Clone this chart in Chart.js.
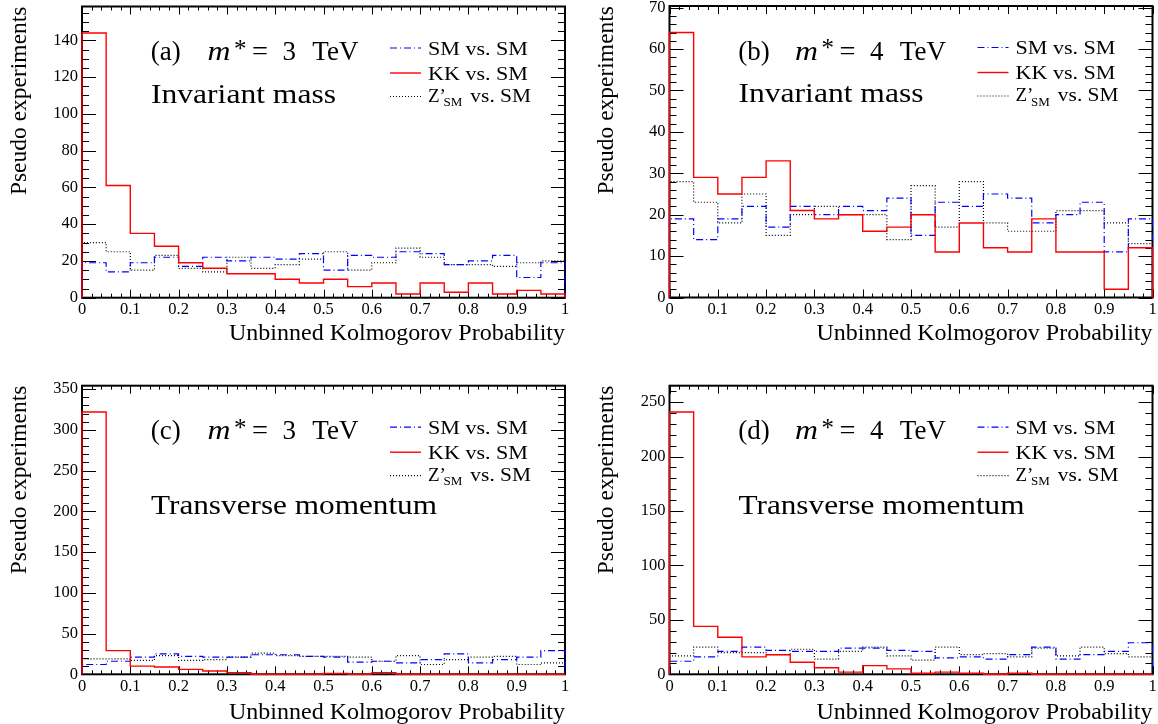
<!DOCTYPE html>
<html><head><meta charset="utf-8"><title>Unbinned Kolmogorov Probability</title>
<script src="https://cdn.jsdelivr.net/npm/chart.js@4.4.1/dist/chart.umd.min.js"></script>
<style>html,body{margin:0;padding:0;background:#fff;overflow:hidden}#wrap{position:relative;width:1158px;height:724px;background:#fff}canvas{position:absolute;display:block}</style>
</head><body><div id="wrap">
<canvas id="pa" width="579" height="362" style="left:0;top:0"></canvas>
<canvas id="pb" width="579" height="362" style="left:579px;top:0"></canvas>
<canvas id="pc" width="579" height="362" style="left:0;top:362px"></canvas>
<canvas id="pd" width="579" height="362" style="left:579px;top:362px"></canvas>
</div>
<script>
// ---- data ----
const binEdges = [0,0.05,0.1,0.15,0.2,0.25,0.3,0.35,0.4,0.45,0.5,0.55,0.6,0.65,0.7,0.75,0.8,0.85,0.9,0.95];
const xMaxEdge = 1;
const xTicks = [0,0.1,0.2,0.3,0.4,0.5,0.6,0.7,0.8,0.9,1];
const xTickLabels = ['0','0.1','0.2','0.3','0.4','0.5','0.6','0.7','0.8','0.9','1'];
const legendLabels = ['SM vs. SM','KK vs. SM','Z’','SM',' vs. SM'];

const smA = [19,14,19,22,17,22,20,22,21,24,15,23,22,25,24,18,20,23,11,19];
const kkA = [144,61,35,28,19,16,13,13,10,8,10,6,8,2,8,3,8,2,4,2];
const zpA = [30,25,15,23,16,14,22,16,18,21,25,15,19,27,22,18,18,17,19,20];

const smB = [19,14,19,22,17,22,20,22,21,24,15,23,22,25,24,18,20,23,11,19];
const kkB = [64,29,25,29,33,21,19,20,16,17,20,11,18,12,11,19,11,11,2,12];
const zpB = [28,23,18,25,15,20,22,20,20,14,27,17,28,18,16,16,21,21,18,13];

const smC = [12,16,21,25,22,21,21,24,24,22,21,15,16,14,18,25,14,18,21,29];
const kkC = [322,29,10,9,6,4,2,0,0,0,1,0,2,0,0,0,0,0,0,0];
const zpC = [19,19,17,23,17,18,21,26,23,22,22,21,16,23,12,18,21,22,12,14];

const smD = [12,16,21,25,22,21,21,24,24,22,21,15,16,14,18,25,14,18,21,29];
const kkD = [241,44,34,16,18,11,6,2,8,5,1,2,1,0,1,0,0,0,0,0];
const zpD = [17,25,20,20,18,23,14,21,25,17,13,25,18,19,16,24,17,25,19,16];

const yTicksA = [0,20,40,60,80,100,120,140];
const yTicksB = [0,10,20,30,40,50,60,70];
const yTicksC = [0,50,100,150,200,250,300,350];
const yTicksD = [0,50,100,150,200,250];
const yMaxA = 158.4, yMaxB = 70.4, yMaxC = 354.2, yMaxD = 265.1;

// ---- styling ----
const FONT = '"Liberation Serif","Times New Roman",serif';
const xMinorStep = 0.02;

const panels = [
  {id:'pa', tag:'(a)', mass:'3', kind:'Invariant mass', kindY:96, kindW:185, sm:smA, kk:kkA, zp:zpA, yMax:yMaxA, yTicks:yTicksA, yMajor:20, yMinor:5, box:{l:82, r:565, t:6.5, b:297.7}, titleB:17},
  {id:'pb', tag:'(b)', mass:'4', kind:'Invariant mass', kindY:96, kindW:185, sm:smB, kk:kkB, zp:zpB, yMax:yMaxB, yTicks:yTicksB, yMajor:10, yMinor:2, box:{l:90.5, r:573.5, t:6, b:297.5}, titleB:17},
  {id:'pc', tag:'(c)', mass:'3', kind:'Transverse momentum', kindY:128, kindW:286, sm:smC, kk:kkC, zp:zpC, yMax:yMaxC, yTicks:yTicksC, yMajor:50, yMinor:10, box:{l:82, r:565, t:23.7, b:312.3}, titleB:0},
  {id:'pd', tag:'(d)', mass:'4', kind:'Transverse momentum', kindY:128, kindW:286, sm:smD, kk:kkD, zp:zpD, yMax:yMaxD, yTicks:yTicksD, yMajor:50, yMinor:10, box:{l:90.5, r:573.5, t:23.7, b:312.3}, titleB:0}
];

function histPts(vals){
  const pts = [{x:binEdges[0], y:0}];
  vals.forEach((v,i)=>pts.push({x:binEdges[i], y:v}));
  pts.push({x:xMaxEdge, y:0});
  return pts;
}

const STYLE = {
  sm:{color:'#0000ff', dash:[7,3,1,3], width:1.2},
  kk:{color:'#ff0000', dash:[], width:1.4},
  zp:{color:'#000000', dash:[1,2], width:1.2}
};

function txt(ctx, s, x, y, size, opt){
  opt = opt || {};
  ctx.font = (opt.italic ? 'italic ' : '') + size + 'px ' + FONT;
  ctx.textAlign = 'left';
  ctx.textBaseline = 'alphabetic';
  ctx.fillStyle = '#000';
  if (opt.w){
    const m = ctx.measureText(s).width;
    ctx.save(); ctx.translate(x, y); ctx.scale(opt.w / m, 1); ctx.fillText(s, 0, 0); ctx.restore();
  } else ctx.fillText(s, x, y);
}

const framePlugin = {
  id:'frame',
  beforeDatasetsDraw(chart){
    const p = chart.options.plugins.frame;
    const {ctx, chartArea:a, scales:{x, y}} = chart;
    ctx.save();
    ctx.strokeStyle = '#000';
    ctx.lineWidth = 1;
    ctx.beginPath();
    const nx = Math.round(1 / xMinorStep);
    for (let k = 0; k <= nx; k++){
      const px = Math.round(x.getPixelForValue(k * xMinorStep)) + 0.5;
      const len = (k % 5 === 0) ? 8 : 4;
      ctx.moveTo(px, a.bottom); ctx.lineTo(px, a.bottom - len);
      ctx.moveTo(px, a.top); ctx.lineTo(px, a.top + len);
    }
    const per = Math.round(p.yMajor / p.yMinor);
    for (let k = 0; k * p.yMinor <= y.max; k++){
      const py = Math.round(y.getPixelForValue(k * p.yMinor)) + 0.5;
      const len = (k % per === 0) ? 14 : 7;
      ctx.moveTo(a.left, py); ctx.lineTo(a.left + len, py);
      ctx.moveTo(a.right, py); ctx.lineTo(a.right - len, py);
    }
    ctx.stroke();
    ctx.lineWidth = 2;
    ctx.strokeRect(a.left, a.top, a.right - a.left, a.bottom - a.top);
    ctx.restore();
  },
  afterDatasetsDraw(chart){
    const p = chart.options.plugins.frame;
    const {ctx, chartArea:a} = chart;
    const L = a.left, T = a.top;
    ctx.save();
    // panel title
    const tb = T + 53.5;
    txt(ctx, p.tag, L + 68.7, tb, 27);
    txt(ctx, 'm', L + 125.5, tb, 27, {italic:true, w:23});
    txt(ctx, '*', L + 152, tb - 3.5, 25);
    txt(ctx, '=', L + 170, tb, 27, {w:16});
    txt(ctx, p.mass, L + 200.5, tb, 27);
    txt(ctx, 'TeV', L + 230.3, tb, 27);
    txt(ctx, p.kind, L + 69, T + p.kindY, 27, {w:p.kindW});
    // legend
    const lx0 = L + 308, lx1 = L + 339, tx = L + 346;
    const rows = [
      {s:STYLE.sm, ly:T + 41.5},
      {s:STYLE.kk, ly:T + 66.5},
      {s:STYLE.zp, ly:T + 90}
    ];
    rows.forEach(r=>{
      ctx.beginPath(); ctx.strokeStyle = r.s.color; ctx.lineWidth = r.s.width; ctx.setLineDash(r.s.dash);
      ctx.moveTo(lx0, r.ly); ctx.lineTo(lx1, r.ly); ctx.stroke();
    });
    ctx.setLineDash([]);
    txt(ctx, legendLabels[0], tx, T + 48, 19, {w:100});
    txt(ctx, legendLabels[1], tx, T + 73, 19, {w:100});
    txt(ctx, legendLabels[2], tx, T + 95, 19);
    txt(ctx, legendLabels[3], tx + 15.5, T + 99.5, 13);
    txt(ctx, legendLabels[4], tx + 37, T + 95, 19, {w:66});
    ctx.restore();
  }
};

function makeChart(p){
  const ds = (vals, key, order) => ({
    data: histPts(vals), borderColor: STYLE[key].color, borderWidth: STYLE[key].width,
    borderDash: STYLE[key].dash, stepped: true, pointRadius: 0, fill: false, clip: 4, order: order, tension: 0
  });
  const xH = 362 - p.box.b, yW = 82;
  new Chart(document.getElementById(p.id), {
    type: 'line',
    data: { datasets: [ ds(p.zp, 'zp', 2), ds(p.sm, 'sm', 1), ds(p.kk, 'kk', 0) ] },
    options: {
      responsive: false, animation: false, events: [], devicePixelRatio: 1,
      layout: { padding: { left: p.box.l - yW, right: 579 - p.box.r, top: p.box.t, bottom: 0 } },
      plugins: { legend: {display:false}, tooltip: {enabled:false}, frame: p },
      scales: {
        x: {
          type: 'linear', min: 0, max: xMaxEdge,
          grid: {display:false, drawTicks:false}, border: {display:false},
          afterBuildTicks: s => { s.ticks = xTicks.map(v => ({value:v})); },
          ticks: { callback: (v, i) => xTickLabels[i], font: {family: FONT, size: 16.5}, color: '#000', padding: 2, maxRotation: 0, autoSkip: false },
          title: { display: true, text: 'Unbinned Kolmogorov Probability', align: 'end', color: '#000',
                   font: {family: FONT, size: 24, lineHeight: 0.9}, padding: {top: 0, bottom: p.titleB} },
          afterFit: s => { s.height = xH; s.paddingLeft = 0; s.paddingRight = 0; }
        },
        y: {
          type: 'linear', min: 0, max: p.yMax,
          grid: {display:false, drawTicks:false}, border: {display:false},
          afterBuildTicks: s => { s.ticks = p.yTicks.map(v => ({value:v})); },
          ticks: { callback: v => String(v), font: {family: FONT, size: 16.5}, color: '#000', padding: 4, autoSkip: false },
          title: { display: true, text: 'Pseudo experiments', align: 'end', color: '#000',
                   font: {family: FONT, size: 23.5, lineHeight: 1}, padding: {top: 8, bottom: 0} },
          afterFit: s => { s.width = yW; s.paddingTop = 0; s.paddingBottom = 0; }
        }
      }
    },
    plugins: [framePlugin]
  });
}
panels.forEach(makeChart);
</script></body></html>
